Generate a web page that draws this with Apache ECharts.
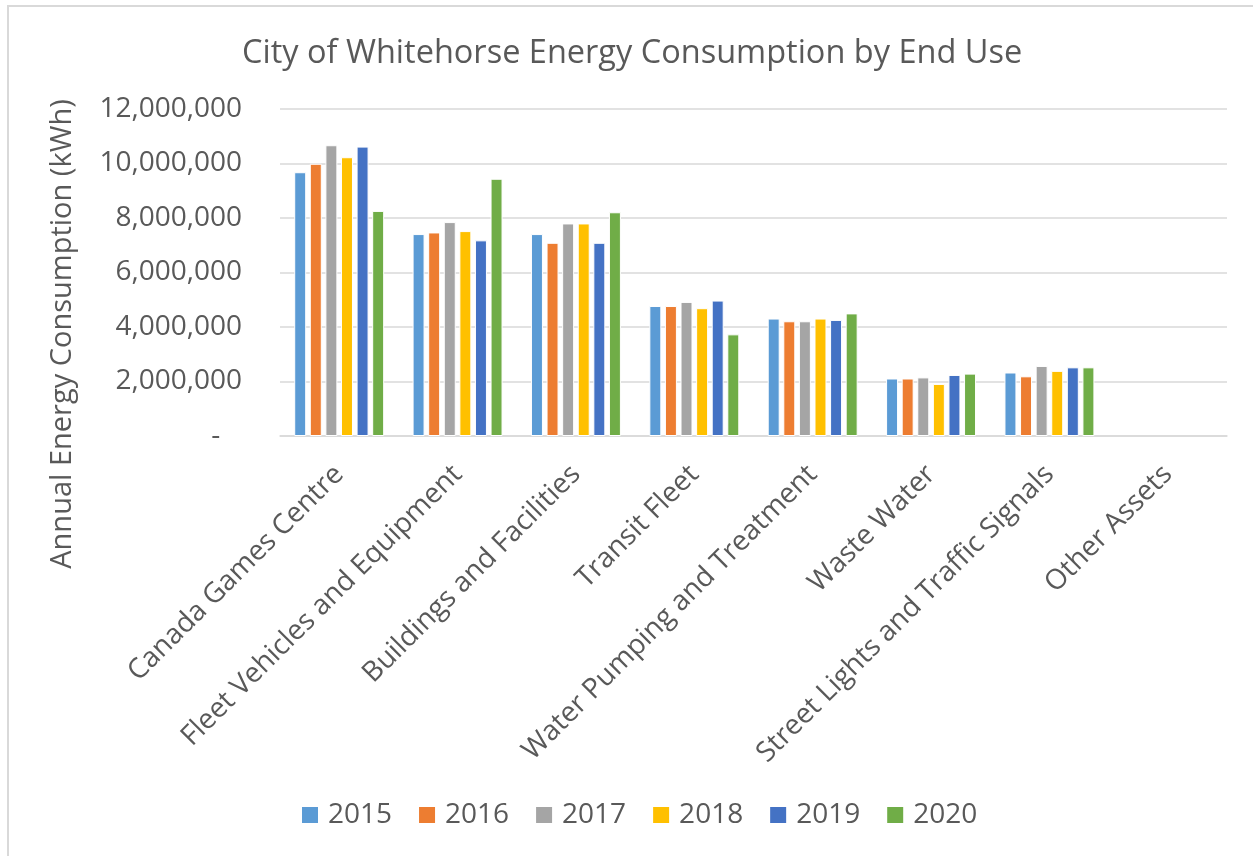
<!DOCTYPE html>
<html>
<head>
<meta charset="utf-8">
<script src="https://cdn.jsdelivr.net/npm/echarts@6/dist/echarts.min.js"></script>
<style>
  html, body { margin: 0; padding: 0; background: #fff; }
  #main { width: 1253px; height: 856px; }
</style>
</head>
<body>
<div id="main"></div>
<script>
// 分类（最终用途）
const categories = [
  'Canada Games Centre',
  'Fleet Vehicles and Equipment',
  'Buildings and Facilities',
  'Transit Fleet',
  'Water Pumping and Treatment',
  'Waste Water',
  'Street Lights and Traffic Signals',
  'Other Assets'
]

// 各年份数据 (kWh)
const years = ['2015', '2016', '2017', '2018', '2019', '2020']
const v2015 = [9680000, 7410000, 7410000, 4770000, 4310000, 2110000, 2330000, null]
const v2016 = [9990000, 7470000, 7090000, 4770000, 4210000, 2110000, 2190000, null]
const v2017 = [10670000, 7850000, 7800000, 4920000, 4210000, 2150000, 2570000, null]
const v2018 = [10230000, 7520000, 7800000, 4690000, 4310000, 1910000, 2390000, null]
const v2019 = [10620000, 7180000, 7090000, 4970000, 4260000, 2240000, 2520000, null]
const v2020 = [8260000, 9440000, 8210000, 3730000, 4500000, 2290000, 2520000, null]

const seriesValues = [v2015, v2016, v2017, v2018, v2019, v2020]
const colors = ['#5B9BD5', '#ED7D31', '#A5A5A5', '#FFC000', '#4472C4', '#70AD47']

const textColor = '#595959'
const font = 'Open Sans'

var myChart = echarts.init(document.querySelector('#main'))

const option = {
  animation: false,
  color: colors,
  textStyle: { fontFamily: font, color: textColor },
  title: {
    text: 'City of Whitehorse Energy Consumption by End Use',
    left: 237,
    top: 32,
    textStyle: { fontFamily: font, fontSize: 32.5, fontWeight: 'normal', color: textColor }
  },
  grid: {
    left: 280,
    right: 26,
    top: 109,
    bottom: 420
  },
  legend: {
    bottom: 22,
    left: 295,
    itemWidth: 18,
    itemHeight: 18,
    itemGap: 25,
    icon: 'rect',
    textStyle: { fontFamily: font, fontSize: 28, color: textColor, padding: [0, 0, 0, 4] },
    data: years
  },
  xAxis: {
    type: 'category',
    data: categories,
    axisLine: { lineStyle: { color: '#d9d9d9', width: 1.5 } },
    axisTick: { show: false },
    axisLabel: {
      rotate: 45,
      interval: 0,
      margin: 34,
      fontFamily: font,
      fontSize: 28,
      color: textColor
    }
  },
  yAxis: {
    type: 'value',
    min: 0,
    max: 12000000,
    interval: 2000000,
    axisLine: { show: false },
    axisTick: { show: false },
    splitLine: { lineStyle: { color: '#d9d9d9', width: 1.5 } },
    axisLabel: {
      margin: 38,
      fontFamily: font,
      fontSize: 28,
      color: textColor,
      formatter: v => v === 0 ? '-   ' : v.toLocaleString('en-US')
    }
  },
  // 纵轴标题 + 外框
  graphic: [
    {
      type: 'rect',
      shape: { x: 8, y: 6, width: 1300, height: 900 },
      style: { fill: 'none', stroke: '#d9d9d9', lineWidth: 2 },
      silent: true
    },
    {
      type: 'text',
      x: 63,
      y: 334,
      rotation: Math.PI / 2,
      style: {
        text: 'Annual Energy Consumption (kWh)',
        fontFamily: font,
        fontSize: 29,
        fill: textColor,
        align: 'center',
        verticalAlign: 'middle'
      }
    }
  ],
  series: years.map((y, i) => ({
    name: y,
    type: 'bar',
    data: seriesValues[i],
    barGap: '30%',
    barCategoryGap: '24%',
    itemStyle: { borderColor: '#fff', borderWidth: 1 }
  }))
}

myChart.setOption(option)
</script>
</body>
</html>
